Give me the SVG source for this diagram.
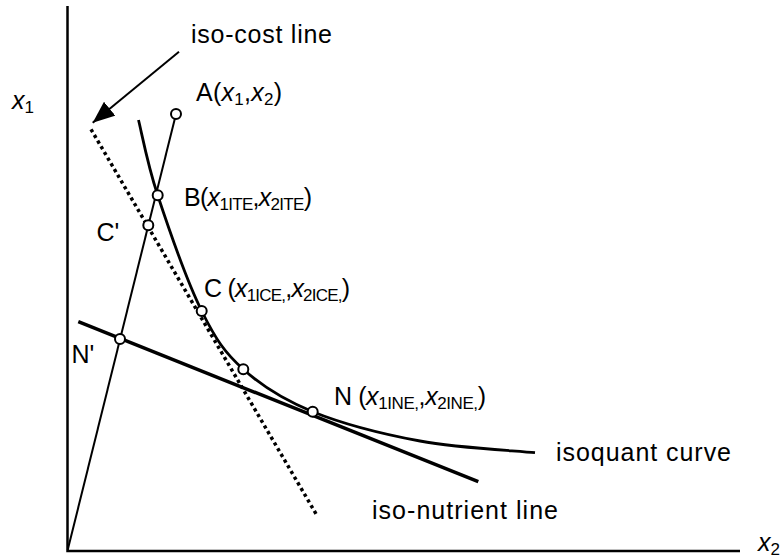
<svg xmlns="http://www.w3.org/2000/svg" width="784" height="558" viewBox="0 0 784 558">
<style>
text{font-family:"Liberation Sans",Arial,sans-serif;font-size:25px;fill:#000}
.i{font-style:italic}
.s{font-size:17px}
.pt{fill:#fff;stroke:#000;stroke-width:2}
.ln{fill:none;stroke:#000}
</style>
<defs>
<marker id="ah" markerWidth="22" markerHeight="18" refX="22" refY="9" orient="auto" markerUnits="userSpaceOnUse">
<path d="M0,0 L22,9 L0,18 Z" fill="#000"/>
</marker>
</defs>
<rect width="784" height="558" fill="#fff"/>
<g id="axes">
<path class="ln" d="M67.5,6 V551 H740" stroke-width="2.5"/>
<text x="12" y="109"><tspan class="i">x</tspan><tspan class="s" dy="4">1</tspan></text>
<text x="758" y="551"><tspan class="i">x</tspan><tspan class="s" dy="4">2</tspan></text>
</g>
<g id="connectors">
<path id="ray" class="ln" d="M67.7,550 L176,114" stroke-width="2"/>
<path id="iso-nutrient" class="ln" d="M78.3,321.7 L478.3,481.7" stroke-width="3.5"/>
<path id="isoquant" class="ln" stroke-width="2.8" d="M138.5,120 C141.7,132.6 147.2,163.5 157.7,195.3 C168.2,227.1 187.4,282 201.7,311 C216,340 224.8,352.5 243.3,369.3 C261.8,386.1 283.2,399.7 312.7,411.7 C342.1,423.6 383,434.1 420,441 C457.1,447.9 515.8,450.7 535,452.7"/>
<path id="iso-cost" class="ln" d="M91,129.3 L316.7,515" stroke-width="3.5" stroke-dasharray="3.3 3.3"/>
<path id="cost-arrow" class="ln" d="M179,51.7 L92.7,122.7" stroke-width="2" marker-end="url(#ah)"/>
</g>
<g id="node-A"><circle class="pt" cx="176" cy="114" r="5"/><text x="196" y="101" textLength="86">A(<tspan class="i">x</tspan><tspan class="s" dy="4">1</tspan><tspan dy="-4">,</tspan><tspan class="i">x</tspan><tspan class="s" dy="4">2</tspan><tspan dy="-4">)</tspan></text></g>
<g id="node-B"><circle class="pt" cx="157.7" cy="195.3" r="5"/><text x="184" y="206" textLength="128">B(<tspan class="i">x</tspan><tspan class="s" dy="4">1ITE</tspan><tspan dy="-4">,</tspan><tspan class="i">x</tspan><tspan class="s" dy="4">2ITE</tspan><tspan dy="-4">)</tspan></text></g>
<g id="node-Cp"><circle class="pt" cx="148.3" cy="225.3" r="5"/><text x="96.5" y="241">C'</text></g>
<g id="node-C"><circle class="pt" cx="201.7" cy="311" r="5"/><text x="204" y="297" textLength="146">C (<tspan class="i">x</tspan><tspan class="s" dy="4">1ICE,</tspan><tspan dy="-4">,</tspan><tspan class="i">x</tspan><tspan class="s" dy="4">2ICE,</tspan><tspan dy="-4">)</tspan></text></g>
<g id="node-M"><circle class="pt" cx="243.3" cy="369.3" r="5"/></g>
<g id="node-Np"><circle class="pt" cx="120" cy="339" r="5"/><text x="71.5" y="362.5">N'</text></g>
<g id="node-N"><circle class="pt" cx="312.7" cy="411.7" r="5"/><text x="334" y="405" textLength="152">N (<tspan class="i">x</tspan><tspan class="s" dy="4">1INE,</tspan><tspan dy="-4">,</tspan><tspan class="i">x</tspan><tspan class="s" dy="4">2INE,</tspan><tspan dy="-4">)</tspan></text></g>
<g id="labels">
<text x="191" y="43" textLength="141">iso-cost line</text>
<text x="556" y="460.5" textLength="175">isoquant curve</text>
<text x="372" y="519.3" textLength="186">iso-nutrient line</text>
</g>
</svg>
